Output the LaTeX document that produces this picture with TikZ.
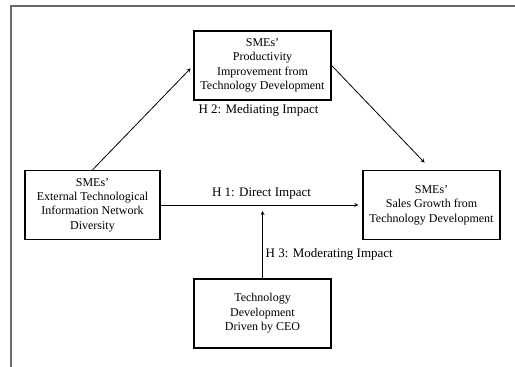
\documentclass[tikz,border=0pt]{standalone}
\usepackage{fontspec}
\setmainfont{Liberation Serif}
\usepackage{tikz}
\usetikzlibrary{arrows,positioning}
\usepackage{xcolor}
\definecolor{framegray}{RGB}{105,105,105}
\tikzstyle{construct} = [rectangle, minimum width=137pt, minimum height=69pt, text centered, align=center, draw=black, line width=1.2pt, inner sep=2pt, font=\fontsize{12}{14.4}\selectfont]
\tikzstyle{arrow} = [line width=0.8pt,->,>=stealth,color=black]
\tikzstyle{hypo} = [font=\fontsize{13}{15}\selectfont, inner sep=1pt]

\begin{document}
\begin{tikzpicture}[x=1pt,y=1pt]
\useasboundingbox (0,0) rectangle (515,367);
% Frame
\draw[framegray, line width=1.2pt] (11,0) -- (11,361) -- (515,361);

% Constructs
\node (prod) [construct] at (262.5,301.5) {SMEs'\\Productivity\\Improvement from\\Technology Development};
\node (ext) [construct, minimum width=135pt] at (92.5,162) {SMEs'\\External Technological\\Information Network\\Diversity};
\node (sales) [construct] at (431.5,162) {SMEs'\\Sales Growth from\\Technology Development};
\node (ceo) [construct] at (262.5,53.5) {Technology\\Development\\Driven by CEO};

% H 2
\draw[arrow, shorten >=4pt] (ext.north) -- (prod.west);
\draw[arrow, shorten >=10pt] (prod.east) -- (sales.north);
\node (h2) [hypo, below=3pt of prod, xshift=-4pt] {H 2: Mediating Impact};

% H 1
\draw[arrow, shorten >=4pt] (ext.east) -- node[hypo, above=4pt] (h1) {H 1: Direct Impact} (sales.west);

% H 3
\coordinate (cross) at (ceo.north |- ext.east);
\draw[arrow, shorten >=6pt] (ceo.north) -- (cross);
\node (h3) [hypo, anchor=west] at ([xshift=2pt, yshift=24pt]ceo.north) {H 3: Moderating Impact};
\end{tikzpicture}
\end{document}
